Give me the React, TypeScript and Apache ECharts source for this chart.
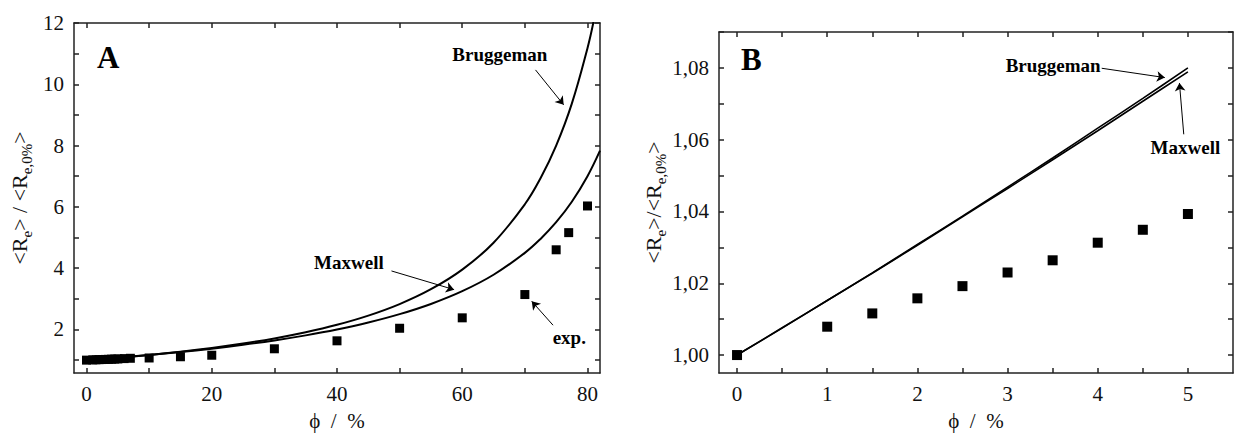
import React, { useEffect, useRef } from 'react';
import * as echarts from 'echarts';

// ---------- Panel A data ----------
const phiMaxA = [0, 5, 10, 15, 20, 25, 30, 35, 40, 45, 50, 55, 60, 65, 70, 72.5, 75, 77.5, 80, 82];
const maxwellA = [1.0, 1.079, 1.167, 1.265, 1.375, 1.5, 1.643, 1.808, 2.0, 2.227, 2.5, 2.833, 3.25, 3.786, 4.5, 4.955, 5.5, 6.167, 7.0, 7.833];
const phiBrugA = [0, 5, 10, 15, 20, 25, 30, 35, 40, 45, 50, 55, 60, 65, 70, 72.5, 75, 77.5, 80, 81];
const bruggemanA = [1.0, 1.08, 1.171, 1.276, 1.398, 1.54, 1.707, 1.908, 2.152, 2.452, 2.828, 3.313, 3.953, 4.83, 6.086, 6.934, 8.0, 9.37, 11.18, 12.075];
const phiExpA = [0, 1, 1.5, 2, 2.5, 3, 3.5, 4, 4.5, 5, 6, 7, 10, 15, 20, 30, 40, 50, 60, 70, 75, 77, 80];
const expA = [1.0, 1.008, 1.012, 1.016, 1.019, 1.023, 1.026, 1.031, 1.035, 1.039, 1.05, 1.06, 1.07, 1.11, 1.16, 1.37, 1.63, 2.04, 2.38, 3.14, 4.6, 5.16, 6.03];

const xTicksA = [0, 10, 20, 30, 40, 50, 60, 70, 80];
const xLabelsA = [0, 20, 40, 60, 80];
const yTicksA = [1, 2, 3, 4, 5, 6, 7, 8, 9, 10, 11, 12];
const yLabelsA = [2, 4, 6, 8, 10, 12];

// ---------- Panel B data ----------
const phiB = [0, 0.5, 1, 1.5, 2, 2.5, 3, 3.5, 4, 4.5, 5];
const maxwellB = [1.0, 1.0075, 1.0152, 1.0228, 1.0306, 1.0385, 1.0464, 1.0544, 1.0625, 1.0707, 1.0789];
const bruggemanB = [1.0, 1.0076, 1.0152, 1.0229, 1.0308, 1.0387, 1.0468, 1.0549, 1.0632, 1.0715, 1.08];
const phiExpB = [0, 1, 1.5, 2, 2.5, 3, 3.5, 4, 4.5, 5];
const expB = [1.0, 1.0079, 1.0116, 1.0158, 1.0192, 1.023, 1.0264, 1.0313, 1.0349, 1.0393];

const xTicksB = [0, 0.5, 1, 1.5, 2, 2.5, 3, 3.5, 4, 4.5, 5];
const xLabelsB = [0, 1, 2, 3, 4, 5];
const yTicksB = [1.0, 1.01, 1.02, 1.03, 1.04, 1.05, 1.06, 1.07, 1.08, 1.09];
const yLabelsB = [1.0, 1.02, 1.04, 1.06, 1.08];

const FONT = '"Liberation Serif", "Times New Roman", serif';
const INK = '#000';
const AXIS = '#222';

const zip = (xs: number[], ys: number[]) => xs.map((x, i) => [x, ys[i]]);

function axis(opts: {
  min: number; max: number; ticks: number[]; labels?: number[]; gridIndex: number;
  position: string; fmt?: (v: number) => string; name?: string; nameGap?: number; nameStyle?: any; labelMargin?: number;
}) {
  return {
    type: 'value',
    gridIndex: opts.gridIndex,
    position: opts.position,
    min: opts.min,
    max: opts.max,
    splitLine: { show: false },
    axisLine: { show: true, onZero: false, lineStyle: { color: AXIS, width: 1.5 } },
    axisTick: { show: true, inside: true, length: 5, customValues: opts.ticks, lineStyle: { color: AXIS, width: 1.5 } },
    axisLabel: opts.labels
      ? {
          show: true,
          customValues: opts.labels,
          color: '#111',
          fontFamily: FONT,
          fontSize: 21,
          margin: opts.labelMargin ?? 10,
          formatter: opts.fmt,
        }
      : { show: false },
    name: opts.name,
    nameLocation: 'middle',
    nameGap: opts.nameGap,
    nameTextStyle: opts.nameStyle,
  };
}

const richName = {
  t: { fontFamily: FONT, fontSize: 22, color: '#111', verticalAlign: 'top' },
  s: { fontFamily: FONT, fontSize: 15, color: '#111', lineHeight: 26, verticalAlign: 'bottom' },
};

const annoText = (coord: number[], text: string) => ({
  coord,
  value: text,
  symbol: 'circle',
  symbolSize: 0,
  label: {
    show: true,
    position: 'inside',
    formatter: text,
    fontFamily: FONT,
    fontWeight: 'bold',
    fontSize: 19,
    color: INK,
  },
});

const arrow = (from: number[], to: number[]) => [
  { coord: from, symbol: 'none' },
  { coord: to, symbol: 'arrow', symbolSize: 8 },
];

export default function App() {
  const ref = useRef<HTMLDivElement>(null);
  useEffect(() => {
    if (!ref.current) return;
    const chart = echarts.init(ref.current, undefined, { renderer: 'svg' });
    const lineStyle = { color: INK, width: 2 };
    const markLineCommon = {
      silent: true,
      animation: false,
      symbol: ['none', 'arrow'],
      symbolSize: 8,
      label: { show: false },
      lineStyle: { color: INK, width: 1, type: 'solid' },
      emphasis: { disabled: true },
    };
    const markPointCommon = { silent: true, animation: false };
    const xName = { fontFamily: FONT, fontSize: 21, color: '#111' };
    chart.setOption({
      animation: false,
      backgroundColor: '#fff',
      textStyle: { fontFamily: FONT },
      grid: [
        { left: 74, top: 23, width: 526, height: 350 },
        { left: 719, top: 32, width: 514, height: 341 },
      ],
      xAxis: [
        axis({ gridIndex: 0, position: 'bottom', min: -2, max: 82, ticks: xTicksA, labels: xLabelsA, fmt: (v) => String(v),
          name: 'ϕ  /  %', nameGap: 37, nameStyle: xName }),
        axis({ gridIndex: 0, position: 'top', min: -2, max: 82, ticks: xTicksA }),
        axis({ gridIndex: 1, position: 'bottom', min: -0.2, max: 5.5, ticks: xTicksB, labels: xLabelsB, fmt: (v) => String(v),
          name: 'ϕ  /  %', nameGap: 37, nameStyle: xName }),
        axis({ gridIndex: 1, position: 'top', min: -0.2, max: 5.5, ticks: xTicksB }),
      ],
      yAxis: [
        axis({ gridIndex: 0, position: 'left', min: 0.58, max: 12, ticks: yTicksA, labels: yLabelsA, fmt: (v) => String(v),
          name: '{t|<R}{s|e}{t|> / <R}{s|e,0%}{t|>}', nameGap: 40, nameStyle: { rich: richName } }),
        axis({ gridIndex: 0, position: 'right', min: 0.58, max: 12, ticks: yTicksA }),
        axis({ gridIndex: 1, position: 'left', min: 0.995, max: 1.09, ticks: yTicksB, labels: yLabelsB,
          fmt: (v) => v.toFixed(2).replace('.', ','),
          name: '{t|<R}{s|e}{t|>/<R}{s|e,0%}{t|>}', nameGap: 46, nameStyle: { rich: richName } }),
        axis({ gridIndex: 1, position: 'right', min: 0.995, max: 1.09, ticks: yTicksB }),
      ],
      series: [
        {
          type: 'line', name: 'Bruggeman A', xAxisIndex: 0, yAxisIndex: 0,
          data: zip(phiBrugA, bruggemanA), showSymbol: false, smooth: 0.4, lineStyle,
          markLine: { ...markLineCommon, data: [arrow([71.7, 10.47], [76.2, 9.33])] },
          markPoint: { ...markPointCommon, data: [annoText([66, 10.97], 'Bruggeman')] },
        },
        {
          type: 'line', name: 'Maxwell A', xAxisIndex: 0, yAxisIndex: 0,
          data: zip(phiMaxA, maxwellA), showSymbol: false, smooth: 0.4, lineStyle,
          markLine: { ...markLineCommon, data: [arrow([48.7, 3.91], [58.7, 3.3])] },
          markPoint: { ...markPointCommon, data: [annoText([41.9, 4.2], 'Maxwell')] },
        },
        {
          type: 'scatter', name: 'exp A', xAxisIndex: 0, yAxisIndex: 0,
          data: zip(phiExpA, expA), symbol: 'rect', symbolSize: 9, itemStyle: { color: '#000', opacity: 1 },
          markLine: { ...markLineCommon, data: [arrow([74.5, 2.14], [71.1, 2.92])] },
          markPoint: { ...markPointCommon, data: [annoText([77.1, 1.73], 'exp.')] },
        },
        {
          type: 'line', name: 'Bruggeman B', xAxisIndex: 2, yAxisIndex: 2,
          data: zip(phiB, bruggemanB), showSymbol: false, smooth: 0.3, lineStyle: { color: INK, width: 1.6 },
          markLine: { ...markLineCommon, data: [arrow([4.044, 1.0799], [4.744, 1.0773])] },
          markPoint: { ...markPointCommon, data: [annoText([3.506, 1.0807], 'Bruggeman')] },
        },
        {
          type: 'line', name: 'Maxwell B', xAxisIndex: 2, yAxisIndex: 2,
          data: zip(phiB, maxwellB), showSymbol: false, smooth: 0.3, lineStyle: { color: INK, width: 1.6 },
          markLine: { ...markLineCommon, data: [arrow([4.954, 1.0615], [4.906, 1.0758])] },
          markPoint: { ...markPointCommon, data: [annoText([4.972, 1.0578], 'Maxwell')] },
        },
        {
          type: 'scatter', name: 'exp B', xAxisIndex: 2, yAxisIndex: 2,
          data: zip(phiExpB, expB), symbol: 'rect', symbolSize: 10, itemStyle: { color: '#000', opacity: 1 },
        },
      ],
      graphic: [
        { type: 'text', left: 97, top: 42, style: { text: 'A', fontFamily: FONT, fontWeight: 'bold', fontSize: 31, fill: INK } },
        { type: 'text', left: 741, top: 44, style: { text: 'B', fontFamily: FONT, fontWeight: 'bold', fontSize: 31, fill: INK } },
      ],
    });
    return () => chart.dispose();
  }, []);
  return <div ref={ref} style={{ position: 'absolute', left: 0, top: 0, width: 1234, height: 438 }} />;
}
